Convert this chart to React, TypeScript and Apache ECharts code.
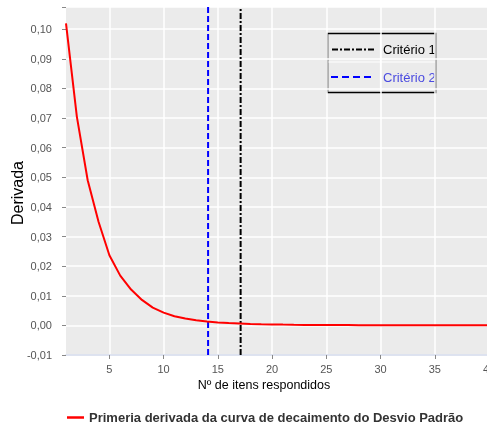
import React, { useEffect, useRef } from "react";
import * as echarts from "echarts";

const itens = [1, 2, 3, 4, 5, 6, 7, 8, 9, 10, 11, 12, 13, 14, 15, 16, 17, 18, 19, 20, 21, 22, 23, 24, 25, 26, 27, 28, 29, 30, 31, 32, 33, 34, 35, 36, 37, 38, 39, 40];
const derivada = [0.102, 0.0705, 0.049, 0.035, 0.0237, 0.0168, 0.0121, 0.0086, 0.006, 0.0043, 0.0031, 0.0023, 0.0017, 0.0013, 0.001, 0.0008, 0.00065, 0.0005, 0.0004, 0.00032, 0.00026, 0.00021, 0.00017, 0.00014, 0.00012, 0.0001, 0.00009, 0.00008, 0.00007, 0.00006, 0.00005, 0.00005, 0.00004, 0.00004, 0.00003, 0.00003, 0.00003, 0.00002, 0.00002, 0.00002];
const criterio1 = 17.1;
const criterio2 = 14.1;
const xTicks = [5, 10, 15, 20, 25, 30, 35, 40];
const yMin = -0.01;
const yMax = 0.1075;

const FONT = "'Liberation Sans', Arial, sans-serif";
const LEGEND_NAME = "Primeria derivada da curva de decaimento do Desvio Padrão";

export default function App() {
  const ref = useRef<HTMLDivElement>(null);
  useEffect(() => {
    const chart = echarts.init(ref.current!, null, { renderer: "svg" });
    chart.setOption({
      animation: false,
      grid: {
        left: 66,
        right: -2,
        top: 7,
        bottom: 70,
        show: true,
        backgroundColor: "#EBEBEB",
        borderWidth: 0,
        containLabel: false,
        outerBoundsMode: "none",
      },
      xAxis: {
        type: "value",
        min: 1,
        max: 40,
        axisLine: { show: true, onZero: false, lineStyle: { color: "#D3DAEC", width: 1.5 } },
        axisTick: { show: true, length: 4, lineStyle: { color: "#888" }, customValues: xTicks },
        axisLabel: { color: "#555", fontSize: 11, fontFamily: FONT, margin: 8, customValues: xTicks },
        splitLine: { show: false },
      },
      yAxis: {
        type: "value",
        min: yMin,
        max: yMax,
        interval: 0.01,
        axisLine: { show: false },
        axisTick: { show: true, length: 4, lineStyle: { color: "#888" } },
        axisLabel: {
          color: "#555",
          fontSize: 11,
          fontFamily: FONT,
          margin: 14,
          formatter: (v: number) => {
            if (v > 0.1001) return "";
            return v.toFixed(2).replace(".", ",");
          },
        },
        splitLine: { show: true, lineStyle: { color: "#FFFFFF", width: 1.5 } },
      },
      legend: {
        data: [LEGEND_NAME],
        left: 62,
        top: 406,
        icon: "rect",
        itemWidth: 17,
        itemHeight: 2.5,
        itemGap: 6,
        textStyle: { color: "#333", fontSize: 13, fontWeight: "bold", fontFamily: FONT },
      },
      series: [
        {
          name: "grade",
          type: "line",
          data: [],
          silent: true,
          z: 0,
          markLine: {
            silent: true,
            symbol: "none",
            label: { show: false },
            lineStyle: { color: "#FFFFFF", width: 1.5, type: "solid" },
            data: xTicks.map((v) => ({ xAxis: v })),
            z: 0,
          },
        },
        {
          name: LEGEND_NAME,
          type: "line",
          data: itens.map((x, i) => [x, derivada[i]]),
          showSymbol: false,
          symbol: "none",
          lineStyle: { color: "#FF0000", width: 2 },
          itemStyle: { color: "#FF0000" },
          z: 3,
        },
        {
          name: "Critério 2",
          type: "line",
          data: [[criterio2, yMin], [criterio2, yMax]],
          symbol: "none",
          lineStyle: { color: "#0000FF", width: 2, type: [6, 3] },
          z: 2,
        },
        {
          name: "Critério 1",
          type: "line",
          data: [[criterio1, yMin], [criterio1, yMax]],
          symbol: "none",
          lineStyle: { color: "#000000", width: 2, type: [6, 2, 2, 2] },
          z: 2,
        },
      ],
      graphic: [
        {
          type: "text",
          x: 17,
          y: 193,
          rotation: Math.PI / 2,
          style: { text: "Derivada", fill: "#000", font: `16px ${FONT}`, align: "center", verticalAlign: "middle" },
        },
        {
          type: "text",
          x: 264,
          y: 385,
          style: { text: "Nº de itens respondidos", fill: "#000", font: `12.5px ${FONT}`, align: "center", verticalAlign: "middle" },
        },
        {
          type: "group",
          z: 10,
          children: [
            { type: "rect", shape: { x: 327.5, y: 33.5, width: 108, height: 59 }, style: { fill: "#EBEBEB", stroke: "#000", lineWidth: 1.5 } },
            { type: "line", shape: { x1: 328.5, y1: 62, x2: 435, y2: 62 }, style: { stroke: "#FFFFFF", lineWidth: 1.2 } },
            { type: "line", shape: { x1: 380.5, y1: 34.5, x2: 380.5, y2: 91.5 }, style: { stroke: "#FFFFFF", lineWidth: 1.2 } },
            { type: "line", shape: { x1: 332, y1: 49.5, x2: 374, y2: 49.5 }, style: { stroke: "#000", lineWidth: 2, lineDash: [6, 2, 2, 2] } },
            { type: "text", x: 383, y: 49.5, style: { text: "Critério 1", fill: "#000", font: `13px ${FONT}`, verticalAlign: "middle" } },
            { type: "line", shape: { x1: 331, y1: 77, x2: 374, y2: 77 }, style: { stroke: "#0000FF", lineWidth: 2, lineDash: [7, 4] } },
            { type: "text", x: 383, y: 77, style: { text: "Critério 2", fill: "#4A4AE0", font: `13px ${FONT}`, verticalAlign: "middle" } },
          ],
        },
      ],
    });
    return () => chart.dispose();
  }, []);
  return <div ref={ref} style={{ position: "fixed", left: 0, top: 0, width: 487, height: 425 }} />;
}
